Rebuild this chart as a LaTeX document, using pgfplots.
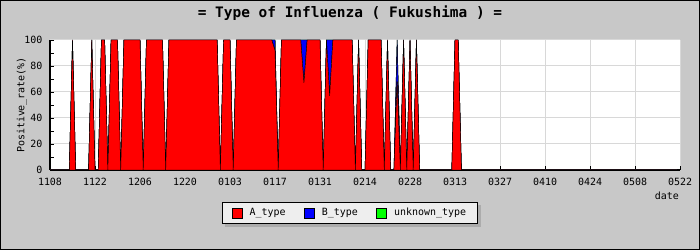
\documentclass[border=0pt]{standalone}
\usepackage{pgfplots}
\pgfplotsset{compat=1.18}
\usepackage{pgfplotstable}
\usepackage{fontspec}
\setmainfont{DejaVu Sans Mono}
\setmonofont{DejaVu Sans Mono}
\usetikzlibrary{calc}

\pgfdeclarelayer{bottom}
\pgfdeclarelayer{shade}
\pgfsetlayers{bottom,shade,main}

\definecolor{bgc}{RGB}{200,200,200}
\definecolor{gridc}{RGB}{216,216,216}
\definecolor{legc}{RGB}{238,238,238}
\definecolor{shadc}{RGB}{172,172,172}
\definecolor{typeA}{RGB}{255,0,0}
\definecolor{typeB}{RGB}{0,0,255}
\definecolor{typeU}{RGB}{0,255,0}

% day 0 = 8 Nov; positive rate (%) of each influenza type per day
\pgfplotstableread{
day A   B  U
0   0   0  0
6   0   0  0
7   100 0  0
8   0   0  0
12  0   0  0
13  100 0  0
14  0   0  0
15  0   0  0
16  100 0  0
17  100 0  0
18  0   0  0
19  100 0  0
21  100 0  0
22  0   0  0
23  100 0  0
28  100 0  0
29  0   0  0
30  100 0  0
35  100 0  0
36  0   0  0
37  100 0  0
52  100 0  0
53  0   0  0
54  100 0  0
56  100 0  0
57  0   0  0
58  100 0  0
69  100 0  0
70  92  8  0
71  0   0  0
72  100 0  0
78  100 0  0
79  67  33 0
80  100 0  0
84  100 0  0
85  0   0  0
86  100 0  0
87  57  43 0
88  100 0  0
94  100 0  0
95  0   0  0
96  100 0  0
97  0   0  0
98  0   0  0
99  100 0  0
103 100 0  0
104 0   0  0
105 100 0  0
106 0   0  0
107 0   0  0
108 68  32 0
109 0   0  0
110 100 0  0
111 0   0  0
112 100 0  0
113 0   0  0
114 100 0  0
115 0   0  0
125 0   0  0
126 100 0  0
127 100 0  0
128 0   0  0
195 0   0  0
}\fluData

\begin{document}
\begin{tikzpicture}
\begin{pgfonlayer}{bottom}
\fill[bgc] (0,0) rectangle (700bp,250bp);
\draw[black, line width=1bp] (0.5bp,0.5bp) rectangle (699.5bp,249.5bp);
\end{pgfonlayer}
\node[font=\fontsize{14.5}{16}\selectfont\bfseries] at (350bp,237bp)
  {= Type of Influenza ( Fukushima ) =};
\begin{axis}[
  at={(50bp,80bp)}, anchor=south west,
  scale only axis, width=630bp, height=130bp,
  xmin=0, xmax=196, ymin=0, ymax=100,
  axis x line*=bottom, axis y line*=left,
  axis line style={line width=1.5bp, -},
  axis background/.style={fill=white},
  xtick={0,14,...,196},
  xticklabels={1108,1122,1206,1220,0103,0117,0131,0214,0228,0313,0327,0410,0424,0508,0522},
  ytick={0,20,...,100},
  minor ytick={10,30,...,90},
  tick align=inside,
  major tick length=4bp, minor tick length=4bp,
  tick style={black, line width=0.8bp},
  grid=major, major grid style={gridc, line width=1bp},
  font=\fontsize{10}{12}\selectfont,
  ticklabel style={font=\fontsize{10}{12}\selectfont},
  /pgf/number format/assume math mode=true,
  yticklabel style={xshift=-4bp},
  xticklabel style={yshift=-5bp},
  ylabel={Positive\_rate(\%)},
  ylabel style={at={(axis description cs:-0.045,0.5)}, anchor=center},
  xlabel={date},
  xlabel style={at={(axis description cs:0.979,-0.2)}, anchor=center},
  stack plots=y,
  legend image code/.code={\draw[#1, draw=black, line width=0.8bp] (0bp,-5bp) rectangle (10bp,5bp);},
  legend style={
    name=typeleg,
    at={(axis description cs:0.476,-0.246)}, anchor=north,
    legend columns=3, draw=black, line width=0.8bp, fill=legc,
    font=\fontsize{10}{12}\selectfont,
    inner xsep=9.5bp, inner ysep=4bp,
    /tikz/every odd column/.append style={column sep=5bp},
    /tikz/every even column/.append style={column sep=16.5bp},
  },
]
\addplot[fill=typeA, draw=black, line width=0.45bp] table[x=day, y=A] {\fluData} \closedcycle;
\addplot[fill=typeB, draw=black, line width=0.45bp] table[x=day, y=B] {\fluData} \closedcycle;
\addplot[fill=typeU, draw=black, line width=0.45bp] table[x=day, y=U] {\fluData} \closedcycle;
\legend{A\_type, B\_type, unknown\_type}
\end{axis}
% shadow behind the legend box
\begin{pgfonlayer}{shade}
\fill[shadc] ($(typeleg.south west)+(3bp,-3bp)$) rectangle ($(typeleg.north east)+(3bp,-3bp)$);
\end{pgfonlayer}
\pgfresetboundingbox
\useasboundingbox (0,0) rectangle (700bp,250bp);
\end{tikzpicture}
\end{document}
